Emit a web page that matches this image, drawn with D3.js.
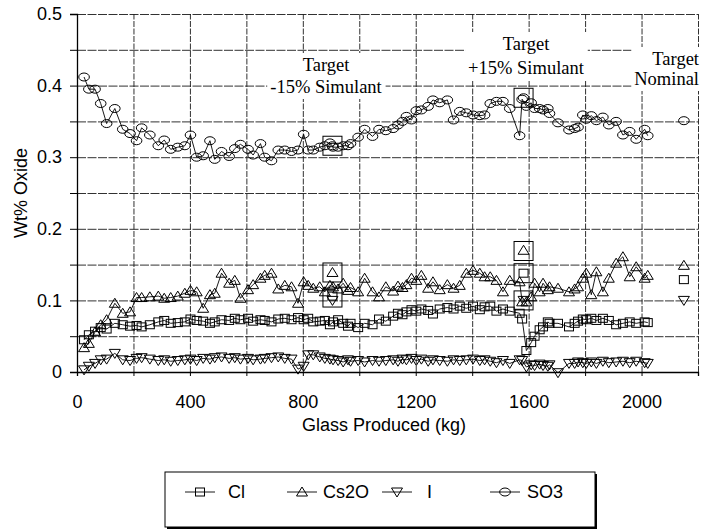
<!DOCTYPE html>
<html>
<head>
<meta charset="utf-8">
<script src="https://cdn.jsdelivr.net/npm/d3@7"></script>
<style>
  body { margin: 0; background: #fff; }
  svg { display: block; }
</style>
</head>
<body>
<svg id="chart" width="709" height="531"></svg>
<script>
// Glass produced (kg) at each melter sample
const glassKg = [25,42,64,84,105,134,162,188,211,229,
  258,288,309,332,357,382,402,424,447,471,
  488,512,539,559,579,606,624,650,665,689,
  713,736,760,783,803,819,837,860,878,896,
  907,925,943,960,969,996,1019,1047,1070,1094,
  1120,1137,1153,1167,1185,1202,1220,1244,1261,1285,
  1312,1334,1356,1379,1403,1427,1444,1464,1486,1509,
  1533,1568,1577,1592,1609,1621,1639,1651,1668,1674,
  1704,1743,1763,1775,1792,1804,1822,1840,1863,1884,
  1910,1934,1958,1981,2011,2022];

// Measured wt% oxide in glass
const so3 = [.412,.395,.395,.375,.347,.368,.339,.333,.323,.341,
  .331,.316,.324,.311,.314,.316,.331,.300,.302,.323,
  .297,.308,.301,.312,.318,.311,.303,.319,.300,.295,
  .310,.310,.308,.310,.332,.310,.310,.314,.316,.320,
  .314,.314,.316,.316,.319,.328,.339,.329,.339,.337,
  .340,.345,.350,.357,.352,.365,.366,.371,.380,.376,
  .380,.352,.364,.362,.359,.358,.359,.375,.378,.378,
  .368,.330,.381,.371,.376,.368,.368,.366,.368,.361,
  .348,.338,.340,.342,.359,.353,.358,.351,.356,.345,
  .350,.331,.336,.325,.339,.330];

const cs2o = [.034,.040,.056,.066,.073,.096,.082,.084,.104,.104,
  .105,.106,.103,.104,.106,.110,.114,.112,.089,.108,
  .110,.138,.124,.128,.103,.115,.122,.131,.135,.138,
  .116,.121,.119,.096,.126,.121,.117,.119,.112,.121,
  .119,.116,.124,.114,.118,.112,.131,.112,.105,.119,
  .113,.120,.118,.122,.131,.128,.135,.117,.126,.115,
  .122,.117,.121,.138,.142,.138,.133,.133,.128,.112,
  .128,.126,.098,.098,.105,.124,.112,.124,.115,.119,
  .117,.112,.116,.119,.131,.138,.108,.140,.112,.131,
  .152,.161,.133,.147,.131,.135];

const cl = [.045,.052,.057,.062,.060,.068,.066,.064,.065,.063,
  .066,.070,.072,.068,.069,.070,.074,.072,.071,.068,
  .070,.073,.072,.075,.073,.075,.071,.073,.072,.070,
  .074,.075,.073,.076,.073,.075,.070,.071,.072,.066,
  .070,.073,.068,.064,.068,.062,.068,.066,.074,.071,
  .078,.082,.080,.084,.087,.085,.088,.086,.081,.088,
  .090,.088,.092,.089,.092,.087,.091,.092,.085,.088,
  .085,.082,.074,.030,.041,.050,.059,.063,.070,.068,
  .068,.063,.068,.071,.074,.073,.075,.072,.075,.072,
  .066,.068,.070,.068,.070,.069];

const iodine = [.003,.008,.012,.017,.018,.026,.017,.016,.019,.020,
  .018,.016,.017,.015,.016,.017,.018,.016,.019,.018,
  .020,.021,.019,.020,.018,.019,.017,.018,.019,.020,
  .021,.019,.018,.004,.008,.024,.024,.021,.019,.018,
  .017,.016,.014,.017,.015,.016,.014,.016,.015,.016,
  .017,.015,.018,.017,.019,.016,.018,.015,.017,.016,
  .015,.017,.016,.017,.018,.016,.017,.015,.013,.016,
  .012,.017,.016,.007,.010,.009,.011,.009,.008,.010,
  -.001,.012,.012,.014,.013,.012,.014,.012,.015,.013,
  .014,.015,.013,.015,.013,.012];

// Target compositions: -15% simulant, +15% simulant, nominal
const targetKg   = [905, 1582, 2150];
const targetSO3  = [.316, .383, .351];
const targetCs2O = [.139, .170, .149];
const targetCl   = [.106, .138, .129];
const targetI    = [.100, .100, .100];

// Boxed targets for the two simulant campaigns
const boxKg = [905, 905, 905, 1582, 1582, 1582, 1582];
const boxWt = [.316, .139, .104, .383, .169, .138, .100];

const xTicks = [0, 400, 800, 1200, 1600, 2000];
const xTickLabels = ["0", "400", "800", "1200", "1600", "2000"];
const yTicks = [0, 0.1, 0.2, 0.3, 0.4, 0.5];
const yTickLabels = ["0", "0.1", "0.2", "0.3", "0.4", "0.5"];
const xGrid = [0,200,400,600,800,1000,1200,1400,1600,1800,2000,2200];
const yGrid = [0,0.05,0.1,0.15,0.2,0.25,0.3,0.35,0.4,0.45,0.5];

const seriesNames = ["Cl", "Cs2O", "I", "SO3"];
const seriesShapes = ["square", "triangle", "down", "circle"];

const svg = d3.select("#chart");
const plotLeft = 77, plotRight = 698, plotTop = 14, plotBottom = 372;
const x = d3.scaleLinear().domain([0, 2200]).range([plotLeft, plotRight]);
const y = d3.scaleLinear().domain([0, 0.5]).range([plotBottom, plotTop]);

const sans = "'Liberation Sans', Arial, sans-serif";
const serif = "'Liberation Serif', 'Times New Roman', serif";

// grid
const grid = svg.append("g");
grid.append("g")
  .attr("transform", `translate(0,${plotBottom})`)
  .call(d3.axisBottom(x).tickValues(xGrid).tickSize(-(plotBottom - plotTop)).tickFormat(""))
  .call(g => g.select(".domain").remove())
  .call(g => g.selectAll("line").attr("stroke", "#1a1a1a").attr("stroke-width", 0.9).attr("stroke-dasharray", "6,1.5"));
grid.append("g")
  .attr("transform", `translate(${plotLeft},0)`)
  .call(d3.axisLeft(y).tickValues(yGrid).tickSize(-(plotRight - plotLeft)).tickFormat(""))
  .call(g => g.select(".domain").remove())
  .call(g => g.selectAll("line").attr("stroke", "#1a1a1a").attr("stroke-width", 0.9).attr("stroke-dasharray", "9,1.5"));

// axes
const yAxis = svg.append("g")
  .attr("transform", `translate(${plotLeft},0)`)
  .call(d3.axisLeft(y).tickValues(yGrid).tickSize(7).tickPadding(8)
    .tickFormat(d => { const i = yTicks.findIndex(t => Math.abs(t - d) < 1e-9); return i >= 0 ? yTickLabels[i] : ""; }));
yAxis.select(".domain").attr("stroke", "#000").attr("stroke-width", 1.3);
yAxis.selectAll("line").attr("stroke", "#000");
yAxis.selectAll("text").attr("font-family", sans).attr("font-size", 18).attr("fill", "#000");

const xAxis = svg.append("g")
  .attr("transform", `translate(0,${plotBottom})`)
  .call(d3.axisBottom(x).tickValues(xGrid).tickSize(4).tickPadding(19)
    .tickFormat(d => { const i = xTicks.indexOf(d); return i >= 0 ? xTickLabels[i] : ""; }));
xAxis.select(".domain").attr("stroke", "#000").attr("stroke-width", 1.3);
xAxis.selectAll("line").attr("stroke", "#000");
xAxis.selectAll("text").attr("font-family", sans).attr("font-size", 18).attr("fill", "#000");

svg.append("text")
  .attr("x", 384).attr("y", 431)
  .attr("text-anchor", "middle")
  .attr("font-family", sans).attr("font-size", 18)
  .text("Glass Produced (kg)");
svg.append("text")
  .attr("transform", "translate(27,193) rotate(-90)")
  .attr("text-anchor", "middle")
  .attr("font-family", sans).attr("font-size", 18)
  .text("Wt% Oxide");

// campaign annotations on white backing
const notes = [
  { cx: 326, anchor: "middle", lines: [["Target", 71], ["-15% Simulant", 93]] },
  { cx: 526, anchor: "middle", lines: [["Target", 50], ["+15% Simulant", 74]] },
  { cx: 699, anchor: "end",    lines: [["Target", 65], ["Nominal", 85]] }
];
notes.forEach(n => {
  const g = svg.append("g");
  const bg = g.append("rect").attr("fill", "#fff");
  const t = g.append("g");
  n.lines.forEach(([s, by]) => {
    t.append("text").attr("x", n.cx).attr("y", by)
      .attr("text-anchor", n.anchor)
      .attr("font-family", serif).attr("font-size", 18.5)
      .text(s);
  });
  const b = t.node().getBBox();
  bg.attr("x", b.x - 3).attr("y", b.y - 2).attr("width", b.width + 6).attr("height", b.height + 4);
});

// marker drawing
function marker(g, shape, cx, cy) {
  let el;
  if (shape === "square") {
    el = g.append("rect").attr("x", cx - 4.5).attr("y", cy - 4).attr("width", 9).attr("height", 8);
  } else if (shape === "triangle") {
    el = g.append("path").attr("d", `M${cx},${cy - 5}L${cx + 5.5},${cy + 4}L${cx - 5.5},${cy + 4}Z`);
  } else if (shape === "down") {
    el = g.append("path").attr("d", `M${cx - 5.5},${cy - 4}L${cx + 5.5},${cy - 4}L${cx},${cy + 5}Z`);
  } else {
    el = g.append("ellipse").attr("cx", cx).attr("cy", cy).attr("rx", 5.3).attr("ry", 4);
  }
  el.attr("fill", "none").attr("stroke", "#000").attr("stroke-width", 1);
}

const seriesValues = [cl, cs2o, iodine, so3];
const line = d3.line().x(d => x(d[0])).y(d => y(d[1]));
const plot = svg.append("g");
seriesValues.forEach((vals, si) => {
  const pts = glassKg.map((k, i) => [k, vals[i]]);
  plot.append("path").datum(pts)
    .attr("d", line).attr("fill", "none").attr("stroke", "#000").attr("stroke-width", 0.9);
  const mg = plot.append("g");
  pts.forEach(p => marker(mg, seriesShapes[si], x(p[0]), y(p[1])));
});

// target compositions
const targets = [targetCl, targetCs2O, targetI, targetSO3];
const tg = svg.append("g");
targets.forEach((vals, si) => {
  targetKg.forEach((k, i) => marker(tg, seriesShapes[si], x(k), y(vals[i])));
});
boxKg.forEach((k, i) => {
  tg.append("rect")
    .attr("x", x(k) - 9.5).attr("y", y(boxWt[i]) - 9.5)
    .attr("width", 19).attr("height", 19)
    .attr("fill", "none").attr("stroke", "#000").attr("stroke-width", 1);
});

// legend
const lg = svg.append("g");
lg.append("rect").attr("x", 167).attr("y", 474).attr("width", 430).attr("height", 55).attr("fill", "#000");
lg.append("rect").attr("x", 165).attr("y", 472).attr("width", 430).attr("height", 55)
  .attr("fill", "#fff").attr("stroke", "#000").attr("stroke-width", 1);
const legendX = [185, 287, 382, 490];
const legendTextX = [228, 323, 427, 527];
seriesNames.forEach((name, i) => {
  const lx = legendX[i], ly = 492;
  lg.append("line").attr("x1", lx).attr("x2", lx + 30).attr("y1", ly).attr("y2", ly)
    .attr("stroke", "#000").attr("stroke-width", 0.9);
  marker(lg, seriesShapes[i], lx + 15, ly);
  lg.append("text").attr("x", legendTextX[i]).attr("y", ly + 6)
    .attr("font-family", sans).attr("font-size", 18)
    .text(name);
});
</script>
</body>
</html>
